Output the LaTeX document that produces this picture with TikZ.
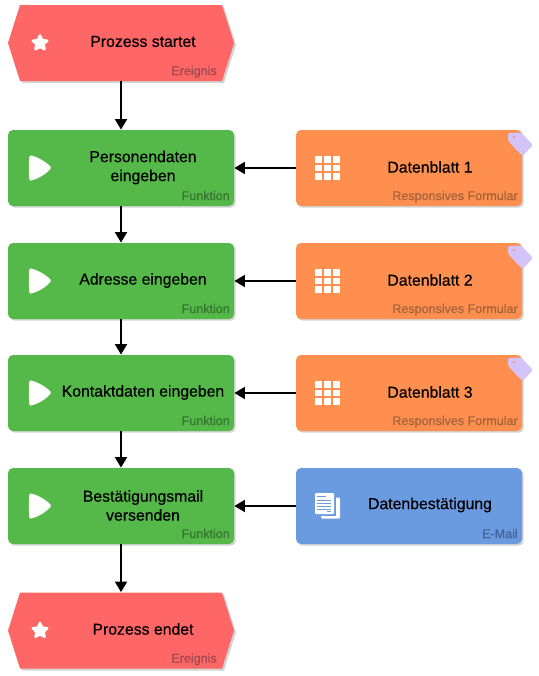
\documentclass[tikz,border=0pt]{standalone}
\usepackage{fontspec}
\setmainfont{Liberation Sans}
\newfontfamily\titlefont[FakeBold=0.45]{Liberation Sans}
\newfontfamily\tagfont[FakeBold=0.8]{Liberation Sans}
\usetikzlibrary{arrows.meta,shadows}
\definecolor{evred}{HTML}{FF6666}
\definecolor{fngreen}{HTML}{54B948}
\definecolor{frorange}{HTML}{FF8F4F}
\definecolor{mlblue}{HTML}{6A9AE0}
\definecolor{tagviolet}{HTML}{D3C3F8}
\definecolor{tagdot}{HTML}{F29A86}
\definecolor{evtag}{HTML}{9E4A52}
\definecolor{fntag}{HTML}{387534}
\definecolor{frtag}{HTML}{A5633C}
\definecolor{mltag}{HTML}{436396}
\definecolor{softshadow}{HTML}{C8C8C8}
\tikzset{
  x=.75pt,y=-.75pt,
  box/.style={rounded corners=3.75pt,minimum width=169.5pt,minimum height=57pt,inner sep=0pt,
    copy shadow={draw=none,fill=softshadow,opacity=.8,shadow xshift=1.3pt,shadow yshift=-1.3pt}},
  hexframe/.style={minimum width=169.5pt,minimum height=57pt,inner sep=0pt},
  funbox/.style={box,fill=fngreen},
  formbox/.style={box,fill=frorange},
  mailbox/.style={box,fill=mlblue},
  title/.style={font=\titlefont\fontsize{11.85pt}{14.25pt}\selectfont,align=center,inner sep=0pt,text=black},
  tagtext/.style={font=\tagfont\fontsize{9.4pt}{10pt}\selectfont,anchor=base east,inner sep=0pt},
  flow/.style={draw=black,line width=2.1pt,-{Triangle[length=8pt,width=8.8pt]}},
  icon/.style={fill=white,draw=none},
}
\newcommand{\hexpath}[2]{(8+#1,43+#2) -- (20+#1,5+#2) -- (222+#1,5+#2) -- (234+#1,43+#2) -- (222+#1,81+#2) -- (20+#1,81+#2) -- cycle}
\newcommand{\EventBox}[3]{% name, y offset, title
  \fill[softshadow,opacity=.8] \hexpath{2}{#2+2};
  \fill[evred] \hexpath{0}{#2};
  \node[hexframe] (#1) at (121,43+#2) {};
  \node[title] (#1t) at (143,41.5+#2) {#3};
  \node[tagtext,text=evtag] (#1g) at (217,75+#2) {Ereignis};
  \draw[white,fill=white,line width=1.9pt,line join=round]
    (40,35.5+#2) -- (42.2,40.2+#2) -- (47.2,40.8+#2) -- (43.5,44.2+#2) -- (44.5,49.2+#2)
    -- (40,46.8+#2) -- (35.5,49.2+#2) -- (36.5,44.2+#2) -- (32.8,40.8+#2) -- (37.8,40.2+#2) -- cycle;
}
\newcommand{\FunBox}[3]{% name, y, title
  \node[funbox] (#1) at (121,#2) {};
  \node[title] (#1t) at (143,#2-0.5) {#3};
  \node[tagtext,text=fntag] (#1g) at (230,#2+32) {Funktion};
  \fill[icon] (31,#2-12.5) .. controls (38,#2-11) and (46,#2-6) .. (50.5,#2-1.5)
    .. controls (51.2,#2-0.7) and (51.2,#2+0.2) .. (50.5,#2+0.9)
    .. controls (46,#2+6) and (38,#2+11) .. (31,#2+12.5)
    .. controls (29.8,#2+12.8) and (29.4,#2+12) .. (29.3,#2+11)
    .. controls (28.6,#2+4) and (28.6,#2-4) .. (29.3,#2-11)
    .. controls (29.4,#2-12) and (29.8,#2-12.8) .. (31,#2-12.5) -- cycle;
}
\newcommand{\FormBox}[3]{% name, y, title
  \node[formbox] (#1) at (409,#2) {};
  \node[title] (#1t) at (430,#2-1) {#3};
  \node[tagtext,text=frtag] (#1g) at (518,#2+32) {Responsives Formular};
  \foreach \cx in {315,324,333}{\foreach \cy in {-12,-3.5,5}{
    \fill[icon] (\cx,#2+\cy) rectangle ++(7,6.5);}}
  \fill[tagviolet,rounded corners=1.5pt] (508,#2-35) -- (521,#2-35.5) -- (533,#2-23) -- (522.5,#2-12) -- (508,#2-27) -- cycle;
  \fill[tagdot] (514,#2-31) circle (1.4);
}
\begin{document}
\begin{tikzpicture}
\useasboundingbox (0,0) rectangle (539,676);
\EventBox{start}{0}{Prozess startet}
\FunBox{f1}{168}{Personendaten\\eingeben}
\FunBox{f2}{281}{Adresse eingeben}
\FunBox{f3}{393}{Kontaktdaten eingeben}
\FunBox{f4}{506}{Bestätigungsmail\\versenden}
\EventBox{stop}{587.5}{Prozess endet}
\FormBox{d1}{168}{Datenblatt 1}
\FormBox{d2}{281}{Datenblatt 2}
\FormBox{d3}{393}{Datenblatt 3}
\node[mailbox] (m) at (409,506) {};
\node[title] (mt) at (430,505) {Datenbestätigung};
\node[tagtext,text=mltag] (mg) at (518,538) {E-Mail};
% document icon
\fill[white,rounded corners=.8pt] (321,497.5) rectangle (340,518.5);
\fill[mlblue] (319.5,495) rectangle (335.5,516);
\fill[white,rounded corners=.8pt] (315,493) rectangle (334,514);
\foreach \ly/\lx in {496.5/326,500/331,503/331,506/331,509/331}{
  \draw[mlblue,line width=.75pt] (317,\ly) -- (\lx,\ly);}
\draw[mlblue,line width=.75pt] (327,511.5) -- (331,511.5);
% connectors
\draw[flow] (start) -- (f1);
\draw[flow] (f1) -- (f2);
\draw[flow] (f2) -- (f3);
\draw[flow] (f3) -- (f4);
\draw[flow] (f4) -- (stop);
\draw[flow] (d1) -- (f1);
\draw[flow] (d2) -- (f2);
\draw[flow] (d3) -- (f3);
\draw[flow] (m) -- (f4);
\end{tikzpicture}
\end{document}
